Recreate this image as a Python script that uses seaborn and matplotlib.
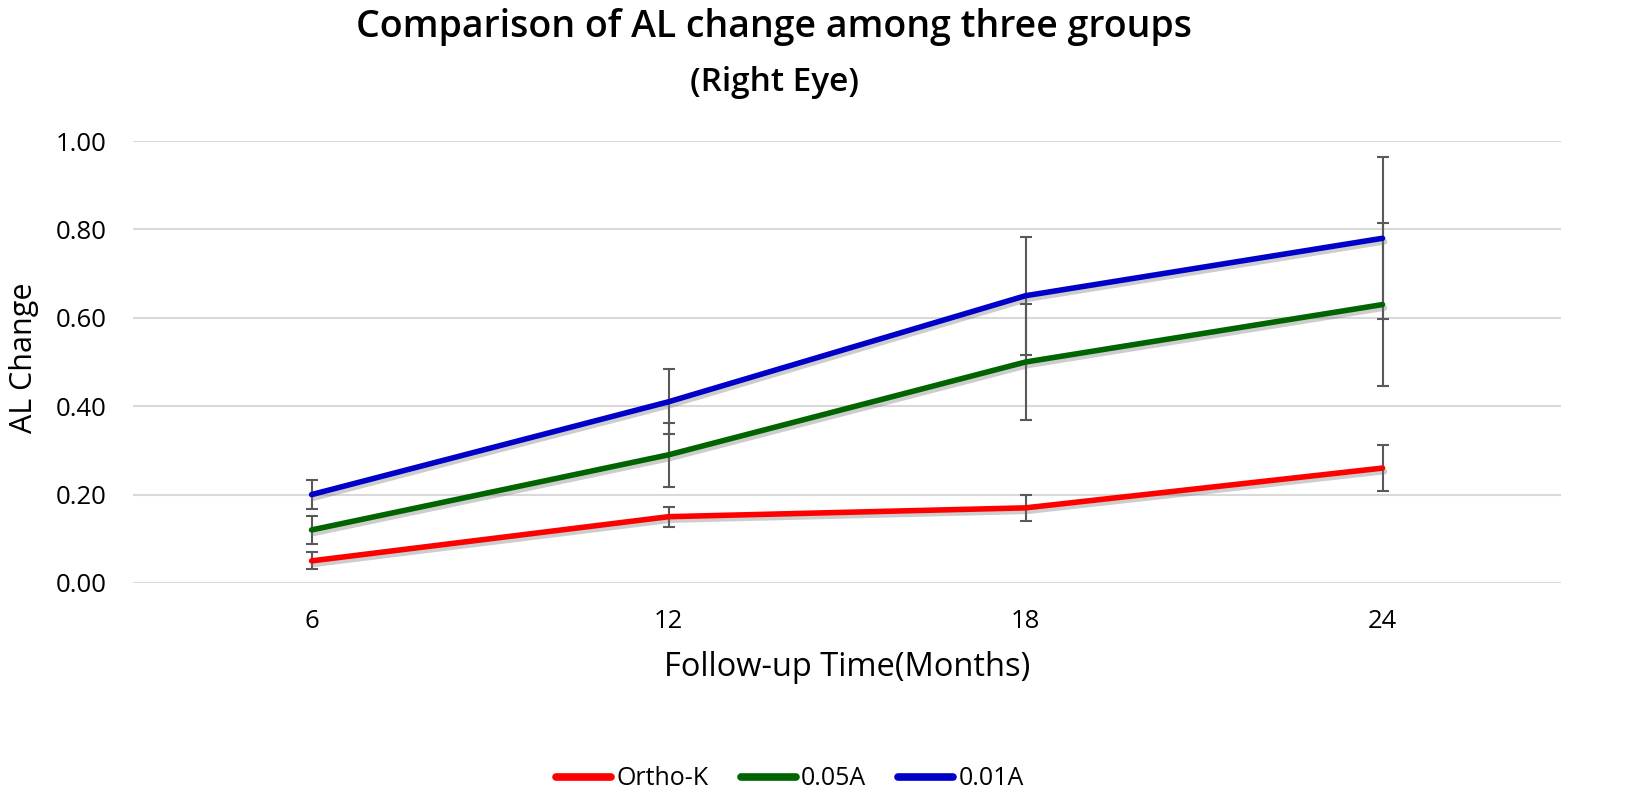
import numpy as np
import pandas as pd
import seaborn as sns
import matplotlib.pyplot as plt
import matplotlib.patheffects as pe

# values
months = [6, 12, 18, 24]
groups = ['Ortho-K', '0.05A', '0.01A']
ortho_k = [0.05, 0.15, 0.17, 0.26]
a005 = [0.12, 0.29, 0.50, 0.63]
a001 = [0.20, 0.41, 0.65, 0.78]
ortho_k_err = [0.019, 0.023, 0.030, 0.052]
a005_err = [0.032, 0.073, 0.132, 0.185]
a001_err = [0.032, 0.074, 0.133, 0.183]
colors = {'Ortho-K': '#ff0000', '0.05A': '#006400', '0.01A': '#0000c8'}

means = {'Ortho-K': ortho_k, '0.05A': a005, '0.01A': a001}
errs = {'Ortho-K': ortho_k_err, '0.05A': a005_err, '0.01A': a001_err}

df = pd.DataFrame({
    'Month': months * 3,
    'Group': [g for g in groups for _ in months],
    'AL': ortho_k + a005 + a001,
})

sns.set_theme(style="white")
plt.rcParams['font.family'] = ['Open Sans', 'DejaVu Sans']
plt.rcParams['text.color'] = '#000000'

fig = plt.figure(figsize=(16.51, 8.06), dpi=100)
ax = fig.add_axes([0.0806, 0.2767, 0.8649, 0.5483])

shadow = [pe.SimpleLineShadow(offset=(1.5, -2.5), shadow_color='#707070', alpha=0.35), pe.Normal()]

# error bars first so lines sit on top
for g in groups:
    ax.errorbar(months, means[g], yerr=errs[g], fmt='none', ecolor='#595959',
                elinewidth=1.5, capsize=4.5, capthick=1.5, zorder=2)

n_before = len(ax.get_lines())
sns.lineplot(data=df, x='Month', y='AL', hue='Group', palette=colors,
             hue_order=groups, linewidth=4, ax=ax, zorder=3)
for line in ax.get_lines()[n_before:]:
    line.set_path_effects(shadow)
    line.set_solid_capstyle('round')

ax.set_xlim(3, 27)
ax.set_ylim(0, 1.0)
ax.set_xticks(months)
ax.set_xticklabels([str(m) for m in months])
ax.set_yticks(np.arange(0, 1.01, 0.2))
ax.set_yticklabels([f'{v:.2f}' for v in np.arange(0, 1.01, 0.2)])
ax.tick_params(axis='both', labelsize=18.5, colors='#000000', length=0)
ax.tick_params(axis='y', pad=19)
ax.tick_params(axis='x', pad=19)
ax.yaxis.grid(True, color='#d9d9d9', linewidth=1.5)
ax.xaxis.grid(False)
for s in ax.spines.values():
    s.set_visible(False)

ax.set_xlabel('Follow-up Time(Months)', fontsize=23.5, labelpad=12, color='#000000')
ax.set_ylabel('AL Change', fontsize=22, color='#000000')
ax.yaxis.set_label_coords(-0.066, 0.51)

fig.text(0.469, 0.966, 'Comparison of AL change among three groups', ha='center', va='center',
         fontsize=27, fontweight='semibold', color='#000000')
fig.text(0.469, 0.898, '(Right Eye)', ha='center', va='center', fontsize=24,
         fontweight='semibold', color='#000000')

handles, labels = ax.get_legend_handles_labels()
ax.legend(handles, labels, loc='center', bbox_to_anchor=(0.46, -0.4435),
          ncol=3, frameon=False, fontsize=18, handlelength=2.2, handletextpad=0.2,
          columnspacing=1.3)
for h in ax.get_legend().get_lines():
    h.set_linewidth(5.5)
    h.set_path_effects([])
for t in ax.get_legend().get_texts():
    t.set_color('#000000')

fig.savefig('out.png', dpi=100)
